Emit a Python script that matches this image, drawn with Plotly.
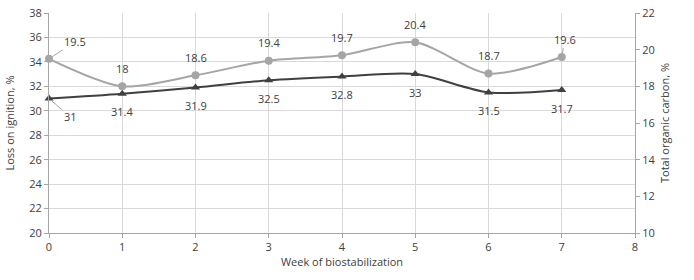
import plotly.graph_objects as go

weeks = [0, 1, 2, 3, 4, 5, 6, 7]
loi = [31, 31.4, 31.9, 32.5, 32.8, 33, 31.5, 31.7]
toc = [19.5, 18, 18.6, 19.4, 19.7, 20.4, 18.7, 19.6]
y_ticks = [20, 22, 24, 26, 28, 30, 32, 34, 36, 38]
y2_ticks = [10, 12, 14, 16, 18, 20, 22]

FONT = "Open Sans"
light = "#a5a5a5"
dark = "#404040"
txt = "#404040"

fig = go.Figure()
fig.add_trace(go.Scatter(x=weeks, y=toc, yaxis="y2", mode="lines+markers",
                         line=dict(color=light, width=2, shape="spline", smoothing=0.8),
                         marker=dict(symbol="circle", size=8, color=light),
                         name="TOC", cliponaxis=False))
fig.add_trace(go.Scatter(x=weeks, y=loi, mode="lines+markers",
                         line=dict(color=dark, width=2, shape="spline", smoothing=0.8),
                         marker=dict(symbol="triangle-up", size=8, color=dark),
                         name="LOI", cliponaxis=False))

ann = []
for i, (w, v) in enumerate(zip(weeks, toc)):
    if i == 0:
        ann.append(dict(x=w, y=v, xref="x", yref="y2", text=str(v), showarrow=True,
                        ax=26, ay=-17, arrowhead=0, arrowwidth=1, arrowcolor="#a6a6a6",
                        standoff=4, font=dict(family=FONT, size=11, color=txt)))
    elif i == 7:
        ann.append(dict(x=w, y=v, xref="x", yref="y2", text=str(v), showarrow=True,
                        ax=3, ay=-18, arrowhead=0, arrowwidth=1, arrowcolor="#a6a6a6",
                        standoff=4, font=dict(family=FONT, size=11, color=txt)))
    else:
        ann.append(dict(x=w, y=v, xref="x", yref="y2", text=str(v), showarrow=False,
                        yshift=18, font=dict(family=FONT, size=11, color=txt)))
for i, (w, v) in enumerate(zip(weeks, loi)):
    if i == 0:
        ann.append(dict(x=w, y=v, xref="x", yref="y", text=str(v), showarrow=True,
                        ax=21, ay=18, arrowhead=0, arrowwidth=1, arrowcolor="#a6a6a6",
                        standoff=4, font=dict(family=FONT, size=11, color=txt)))
    else:
        ann.append(dict(x=w, y=v, xref="x", yref="y", text=str(v), showarrow=False,
                        yshift=-18, font=dict(family=FONT, size=11, color=txt)))

axis_common = dict(showline=True, linecolor="#a6a6a6", linewidth=1, ticks="outside",
                   ticklen=4, tickcolor="#a6a6a6", automargin=False,
                   ticklabeloverflow="allow",
                   tickfont=dict(family=FONT, size=11, color="#404040"))

fig.update_layout(
    width=694, height=280,
    margin=dict(l=49, r=59, t=13, b=47),
    paper_bgcolor="white", plot_bgcolor="white",
    showlegend=False,
    annotations=ann,
    xaxis=dict(range=[0, 8], tickvals=weeks + [8], showgrid=True, gridcolor="#d9d9d9",
               zeroline=False, title=dict(text="Week of biostabilization", standoff=4,
                                          font=dict(family=FONT, size=11, color="#404040")),
               **axis_common),
    yaxis=dict(range=[20, 38], tickvals=y_ticks, showgrid=True, gridcolor="#d9d9d9",
               zeroline=False, title=dict(text="Loss on ignition, %", standoff=12,
                                          font=dict(family=FONT, size=11, color="#404040")),
               **axis_common),
    yaxis2=dict(range=[10, 22], tickvals=y2_ticks, overlaying="y", side="right",
                showgrid=False, zeroline=False,
                title=dict(text="Total organic carbon, %", standoff=6,
                           font=dict(family=FONT, size=11, color="#404040")),
                **axis_common),
)

# remove the page's default 8px body margin so the figure sits at the top-left
fig.write_html("out.html", config={"displayModeBar": False},
               post_script="document.body.style.margin='0';")
